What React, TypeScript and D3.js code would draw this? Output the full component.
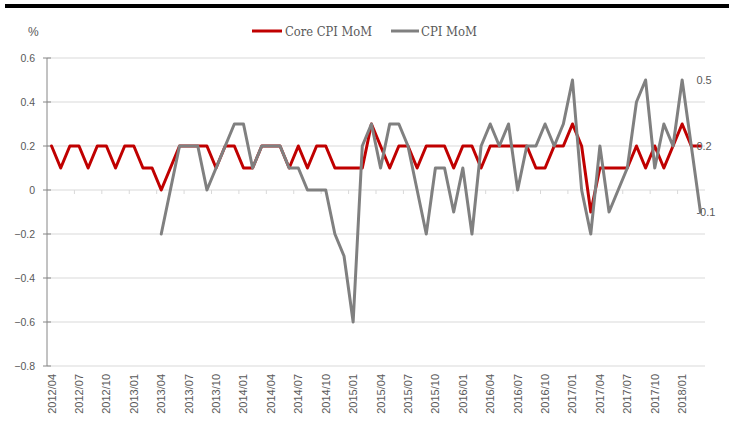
import React, { useEffect } from "react";
import * as d3 from "d3";

// monthly categories 2012/04 .. 2018/03
const months = d3
  .timeMonth.range(new Date(2012, 3, 1), new Date(2018, 3, 1))
  .map(d3.timeFormat("%Y/%m"));

const coreCpi = [
  0.2, 0.1, 0.2, 0.2, 0.1, 0.2, 0.2, 0.1, 0.2, 0.2, 0.1, 0.1,
  0.0, 0.1, 0.2, 0.2, 0.2, 0.2, 0.1, 0.2, 0.2, 0.1, 0.1, 0.2,
  0.2, 0.2, 0.1, 0.2, 0.1, 0.2, 0.2, 0.1, 0.1, 0.1, 0.1, 0.3,
  0.2, 0.1, 0.2, 0.2, 0.1, 0.2, 0.2, 0.2, 0.1, 0.2, 0.2, 0.1,
  0.2, 0.2, 0.2, 0.2, 0.2, 0.1, 0.1, 0.2, 0.2, 0.3, 0.2, -0.1,
  0.1, 0.1, 0.1, 0.1, 0.2, 0.1, 0.2, 0.1, 0.2, 0.3, 0.2, 0.2,
];

const cpi = [
  null, null, null, null, null, null, null, null, null, null, null, null,
  -0.2, 0.0, 0.2, 0.2, 0.2, 0.0, 0.1, 0.2, 0.3, 0.3, 0.1, 0.2,
  0.2, 0.2, 0.1, 0.1, 0.0, 0.0, 0.0, -0.2, -0.3, -0.6, 0.2, 0.3,
  0.1, 0.3, 0.3, 0.2, 0.0, -0.2, 0.1, 0.1, -0.1, 0.1, -0.2, 0.2,
  0.3, 0.2, 0.3, 0.0, 0.2, 0.2, 0.3, 0.2, 0.3, 0.5, 0.0, -0.2,
  0.2, -0.1, 0.0, 0.1, 0.4, 0.5, 0.1, 0.3, 0.2, 0.5, 0.2, -0.1,
];

const yTicks = [0.6, 0.4, 0.2, 0, -0.2, -0.4, -0.6, -0.8];
const endLabels = [0.5, 0.2, -0.1];

const series = [
  { name: "Core CPI MoM", values: coreCpi, color: "#c00000" },
  { name: "CPI MoM", values: cpi, color: "#808080" },
];

const axisFont = "'Liberation Sans', Arial, sans-serif";
const legendFont = "'DejaVu Serif', serif";
const textColor = "#595959";

export default function App() {
  useEffect(() => {
    document.body.style.margin = "0";
  }, []);

  const width = 729;
  const height = 425;
  const plot = { left: 47, right: 705, top: 58, bottom: 366 };

  const x = d3.scaleBand<string>().domain(months).range([plot.left, plot.right]).padding(0);
  const cx = (m: string) => (x(m) as number) + x.bandwidth() / 2;
  const y = d3.scaleLinear().domain([-0.8, 0.6]).range([plot.bottom, plot.top]);

  const line = d3
    .line<number | null>()
    .defined((d) => d !== null)
    .x((_, i) => cx(months[i]))
    .y((d) => y(d as number));

  const labelMonths = months.filter((_, i) => i % 3 === 0);
  const boundaryTicks = months.map((_, i) => i).filter((i) => i > 0 && i % 3 === 0);
  const lastX = cx(months[months.length - 1]);

  return (
    <svg width={width} height={height} style={{ display: "block" }}>
      <rect x={0} y={0} width={width} height={height} fill="#ffffff" />
      <rect x={5} y={4} width={724} height={4} fill="#000000" />

      {/* legend */}
      <text x={28} y={36} fontFamily={axisFont} fontSize={12} fill={textColor}>%</text>
      <line x1={252} x2={282} y1={31} y2={31} stroke="#c00000" strokeWidth={3} />
      <text x={285} y={36} fontFamily={legendFont} fontSize={13.5} fill={textColor}
        textLength={87} lengthAdjust="spacingAndGlyphs">Core CPI MoM</text>
      <line x1={391} x2={419} y1={31} y2={31} stroke="#808080" strokeWidth={3} />
      <text x={421} y={36} fontFamily={legendFont} fontSize={13.5} fill={textColor}
        textLength={56} lengthAdjust="spacingAndGlyphs">CPI MoM</text>

      {/* grid + y axis */}
      {yTicks.map((t) => (
        <g key={t}>
          <line x1={plot.left} x2={plot.right} y1={y(t)} y2={y(t)} stroke="#d9d9d9" strokeWidth={1} />
          <line x1={plot.left - 4} x2={plot.left + 4} y1={y(t)} y2={y(t)} stroke="#868686" />
          <text x={35} y={y(t)} dy="0.35em" textAnchor="end" fontFamily={axisFont}
            fontSize={10.5} fill={textColor}>
            {t === 0 ? "0" : d3.format(".1f")(t)}
          </text>
        </g>
      ))}
      <line x1={plot.left} x2={plot.left} y1={plot.top} y2={plot.bottom} stroke="#868686" />

      {/* category ticks on the zero line */}
      {boundaryTicks.map((i) => (
        <line key={i} x1={x(months[i]) as number} x2={x(months[i]) as number}
          y1={y(0)} y2={y(0) + 4} stroke="#d9d9d9" />
      ))}

      {/* x labels */}
      {labelMonths.map((m) => (
        <text key={m} transform={`translate(${cx(m) + 4},${plot.bottom + 8}) rotate(-90)`}
          textAnchor="end" fontFamily={axisFont} fontSize={11} fill={textColor}>
          {m}
        </text>
      ))}

      {/* lines */}
      {series.map((s) => (
        <path key={s.name} d={line(s.values) || ""} fill="none" stroke={s.color}
          strokeWidth={3} strokeLinejoin="round" strokeLinecap="round" />
      ))}

      {/* end labels */}
      {endLabels.map((v) => (
        <text key={v} x={lastX - 4} y={y(v)} dy="0.35em" fontFamily={axisFont}
          fontSize={11} fill={textColor}>
          {v}
        </text>
      ))}
    </svg>
  );
}
